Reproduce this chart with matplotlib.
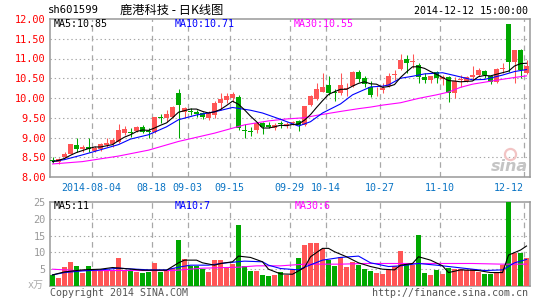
import matplotlib
matplotlib.use('Agg')
import matplotlib.pyplot as plt
import numpy as np

plt.rcParams['font.family'] = ['DejaVu Sans Mono', 'Noto Sans CJK SC']
plt.rcParams['lines.scale_dashes'] = False

# daily candles (index 0..79), price in yuan
opens = [8.44, 8.39, 8.50, 8.58, 8.80, 8.70, 8.75, 8.66, 8.70, 8.82,
         8.84, 8.89, 9.12, 9.15, 9.17, 9.27, 9.15, 9.15, 9.51, 9.49,
         9.51, 10.13, 9.65, 9.67, 9.64, 9.61, 9.50, 9.57, 9.88, 9.95,
         10.01, 10.03, 9.18, 9.16, 9.19, 9.36, 9.32, 9.23, 9.36, 9.30,
         9.36, 9.42, 9.32, 9.82, 9.97, 10.16, 10.33, 10.14, 10.13, 10.24,
         10.30, 10.67, 10.50, 10.28, 10.19, 10.20, 10.30, 10.58, 10.73, 10.98,
         10.91, 10.84, 10.54, 10.46, 10.66, 10.47, 10.52, 10.13, 10.46, 10.44,
         10.52, 10.58, 10.68, 10.56, 10.41, 10.74, 11.87, 10.92, 11.22, 10.64]
highs = [8.50, 8.49, 8.64, 8.84, 8.98, 8.80, 8.98, 8.78, 8.87, 8.98,
         8.98, 9.34, 9.28, 9.23, 9.28, 9.31, 9.23, 9.51, 9.59, 9.70,
         9.80, 10.23, 9.78, 9.75, 9.70, 9.65, 9.66, 9.93, 10.13, 10.12,
         10.14, 10.08, 9.34, 9.27, 9.40, 9.40, 9.38, 9.36, 9.43, 9.40,
         9.43, 9.45, 9.80, 10.07, 10.37, 10.63, 10.56, 10.24, 10.63, 10.37,
         10.69, 10.71, 10.56, 10.42, 10.29, 10.38, 10.63, 10.72, 11.11, 11.08,
         11.11, 10.88, 10.63, 10.56, 10.69, 10.58, 10.55, 10.53, 10.58, 10.56,
         10.81, 10.77, 10.71, 10.58, 10.75, 10.88, 11.87, 11.22, 11.24, 10.95]
lows = [8.36, 8.33, 8.47, 8.57, 8.64, 8.64, 8.64, 8.64, 8.66, 8.75,
        8.76, 8.87, 9.07, 9.02, 9.13, 9.12, 9.00, 9.11, 9.36, 9.40,
        9.49, 9.00, 9.49, 9.57, 9.51, 9.47, 9.45, 9.49, 9.70, 9.87,
        9.91, 9.19, 8.98, 9.04, 9.11, 9.10, 9.23, 9.19, 9.23, 9.23,
        9.32, 9.17, 9.30, 9.80, 9.96, 10.14, 10.08, 9.93, 10.08, 10.05,
        10.27, 10.40, 10.28, 10.03, 10.05, 10.12, 10.29, 10.46, 10.70, 10.64,
        10.77, 10.37, 10.37, 10.39, 10.37, 10.33, 9.91, 9.99, 10.29, 10.41,
        10.46, 10.56, 10.50, 10.35, 10.37, 10.64, 10.67, 10.37, 10.50, 10.60]
closes = [8.40, 8.45, 8.58, 8.84, 8.71, 8.77, 8.72, 8.74, 8.84, 8.87,
          8.94, 9.19, 9.21, 9.12, 9.27, 9.15, 9.13, 9.51, 9.49, 9.59,
          9.78, 9.82, 9.74, 9.65, 9.59, 9.51, 9.62, 9.88, 9.97, 10.05,
          10.09, 9.23, 9.17, 9.15, 9.36, 9.27, 9.27, 9.32, 9.33, 9.33,
          9.40, 9.32, 9.80, 10.05, 10.22, 10.27, 10.13, 10.13, 10.33, 10.25,
          10.67, 10.47, 10.35, 10.08, 10.20, 10.26, 10.56, 10.62, 10.96, 10.89,
          10.92, 10.54, 10.46, 10.56, 10.50, 10.54, 10.13, 10.43, 10.47, 10.52,
          10.58, 10.71, 10.58, 10.41, 10.73, 10.75, 10.92, 11.22, 10.71, 10.81]
# volume, x 10k shares
volumes = [3.2, 2.4, 5.6, 7.0, 5.9, 3.8, 5.9, 4.6, 4.9, 4.9,
           4.7, 8.3, 4.8, 4.9, 4.2, 3.8, 4.2, 6.8, 4.3, 4.7,
           5.5, 13.6, 7.9, 5.9, 5.9, 5.2, 4.1, 7.6, 7.6, 5.5,
           6.5, 18.3, 5.9, 4.4, 4.4, 3.2, 2.9, 3.4, 4.1, 3.2,
           5.1, 8.2, 12.2, 12.8, 12.8, 11.1, 7.8, 5.9, 8.7, 5.6,
           7.1, 6.2, 5.0, 4.5, 3.9, 3.6, 4.9, 6.1, 10.4, 6.6,
           6.2, 15.2, 3.9, 3.2, 4.7, 3.6, 5.4, 5.2, 5.2, 4.7,
           5.2, 4.2, 3.7, 3.5, 4.2, 6.2, 25.5, 9.8, 9.8, 8.2]

# moving average lines
ma5 = [8.39, 8.42, 8.47, 8.55, 8.62, 8.67, 8.72, 8.76, 8.76, 8.79,
       8.82, 8.92, 9.01, 9.07, 9.15, 9.19, 9.18, 9.24, 9.31, 9.37,
       9.50, 9.64, 9.68, 9.72, 9.72, 9.66, 9.62, 9.65, 9.71, 9.81,
       9.92, 9.84, 9.70, 9.54, 9.40, 9.24, 9.24, 9.27, 9.31, 9.30,
       9.33, 9.34, 9.44, 9.58, 9.76, 9.93, 10.09, 10.16, 10.22, 10.22,
       10.30, 10.37, 10.41, 10.36, 10.35, 10.27, 10.29, 10.34, 10.52, 10.66,
       10.79, 10.79, 10.75, 10.67, 10.60, 10.52, 10.44, 10.43, 10.41, 10.42,
       10.43, 10.54, 10.57, 10.56, 10.60, 10.64, 10.68, 10.81, 10.87, 10.88]
ma10_idx = [0, 2, 5, 8, 11, 13, 16, 19, 21, 24, 27, 30, 33, 35, 38, 41, 43,
            45, 48, 50, 53, 55, 56, 58, 60, 62, 65, 67, 70, 72, 75, 77, 79]
ma10 = [8.39, 8.44, 8.56, 8.69, 8.82, 8.96, 9.07, 9.27, 9.45, 9.57, 9.65,
        9.76, 9.69, 9.62, 9.46, 9.29, 9.40, 9.62, 9.85, 10.08, 10.28, 10.30,
        10.33, 10.50, 10.55, 10.61, 10.64, 10.57, 10.46, 10.47, 10.58, 10.67, 10.72]
ma30_idx = [0, 5, 11, 16, 21, 25, 27, 32, 36, 39, 42, 44, 48, 51, 53, 55,
            58, 61, 64, 66, 68, 70, 72, 74, 77, 79]
ma30 = [8.33, 8.39, 8.53, 8.68, 8.90, 9.04, 9.11, 9.32, 9.42, 9.47, 9.50,
        9.56, 9.66, 9.73, 9.77, 9.82, 9.88, 9.99, 10.08, 10.15, 10.27, 10.35,
        10.40, 10.45, 10.52, 10.56]

vol_ma5_idx = [0, 2, 5, 8, 10, 12, 15, 19, 21, 22, 24, 25, 27, 28, 30, 31, 33,
               35, 36, 38, 40, 42, 43, 45, 46, 47, 49, 51, 53, 55, 57, 58, 60,
               61, 63, 65, 66, 68, 71, 73, 75, 76, 78, 79]
vol_ma5 = [3.3, 4.2, 4.8, 5.0, 5.5, 5.2, 4.7, 4.7, 6.9, 7.7, 7.7, 6.9, 6.2,
           6.7, 7.2, 8.9, 8.5, 7.2, 5.0, 3.6, 3.5, 5.5, 8.7, 11.2, 11.2, 10.2,
           8.7, 6.9, 5.8, 5.0, 4.8, 6.2, 6.7, 8.7, 7.7, 6.0, 4.0, 4.8, 4.6,
           4.0, 4.0, 9.2, 10.7, 11.9]
vol_ma10_idx = [0, 2, 5, 8, 11, 14, 16, 19, 21, 23, 26, 29, 32, 35, 36, 38,
                41, 42, 45, 48, 51, 53, 56, 58, 61, 64, 67, 70, 72, 75, 77, 79]
vol_ma10 = [3.3, 4.0, 4.5, 4.8, 5.3, 5.0, 4.8, 4.8, 5.6, 6.2, 6.2, 6.9, 7.4,
            7.2, 6.2, 5.2, 4.8, 5.6, 7.7, 8.5, 8.9, 6.9, 5.8, 6.0, 6.7, 6.2,
            5.6, 5.0, 4.6, 4.8, 6.9, 7.9]
vol_ma30_idx = [0, 4, 10, 20, 25, 31, 34, 38, 42, 48, 52, 60, 70, 75, 79]
vol_ma30 = [5.0, 4.6, 4.6, 4.6, 5.3, 5.6, 6.0, 6.0, 6.5, 6.5, 6.7, 6.7, 6.7, 6.5, 6.5]

date_pos = [6.5, 16.5, 22.5, 29.5, 39.5, 45.5, 54.5, 64.5, 78.5]
date_labels = ['2014-08-04', '08-18', '09-03', '09-15', '09-29',
               '10-14', '10-27', '11-10', '12-12']
price_ticks = [8.0, 8.5, 9.0, 9.5, 10.0, 10.5, 11.0, 11.5, 12.0]
vol_ticks = [5, 10, 15, 20, 25]

RED = '#ff5555'
GREEN = '#00a800'
GRID = '#a8a8a8'
FRAME = '#999999'
DATE_BLUE = '#0a74c4'

W, H = 545, 300
fig = plt.figure(figsize=(W / 100, H / 100), dpi=100)


def px_axes(l, t, r, b):
    return fig.add_axes([l / W, 1 - b / H, (r - l) / W, (b - t) / H])


def px_text(x, y, s, **kw):
    kw.setdefault('va', 'center')
    kw.setdefault('fontsize', 7.2)
    fig.text(x / W, 1 - y / H, s, **kw)


def style_frame(a):
    for sp in a.spines.values():
        sp.set_color(FRAME)
        sp.set_linewidth(1.1)
    a.tick_params(length=0)


x = np.arange(len(closes))
o, h, l, c = (np.array(v) for v in (opens, highs, lows, closes))
colors = np.where(c >= o, RED, GREEN)

# price panel
ax = px_axes(50, 19, 530, 177)
ax.set_xlim(-0.42, 79.58)
ax.set_ylim(8, 12)
for y in price_ticks[1:-1]:
    ax.axhline(y, color=GRID, lw=0.8, ls=(0, (1, 2)), zorder=1)
for p in date_pos:
    ax.axvline(p, color=GRID, lw=0.9, ls=(0, (4, 3)), zorder=1)
ax.vlines(x, l, h, colors=colors, lw=0.75, zorder=3)
ax.bar(x, np.maximum(np.abs(c - o), 0.025), bottom=np.minimum(o, c),
       width=0.83, color=colors, lw=0, zorder=4)
ax.plot(ma30_idx, ma30, color='#ff00ff', lw=0.8, zorder=5)
ax.plot(ma10_idx, ma10, color='#0000ff', lw=0.8, zorder=5)
ax.plot(x, ma5, color='black', lw=0.8, zorder=6)
ax.set_yticks(price_ticks)
ax.set_yticklabels([f'{v:.2f}' for v in price_ticks], color='#ff0000', fontsize=7.4)
ax.set_xticks(date_pos)
ax.set_xticklabels(date_labels, color=DATE_BLUE, fontsize=7.2)
ax.get_xticklabels()[-1].set_ha('right')
style_frame(ax)
ax.tick_params(axis='y', pad=3)
ax.tick_params(axis='x', pad=4)
# sina watermark
ax.plot([76.3], [8.57], marker='o', ms=8, mfc='none', mec='#f2c4c4', mew=1.6, zorder=2)
ax.text(79.3, 8.27, 'sina', color='#c4c4c4', fontsize=11.5, fontstyle='italic',
        fontweight='bold', family='DejaVu Sans', ha='right', va='center', zorder=2)

# volume panel
vx = px_axes(50, 202, 530, 286)
vx.set_xlim(-0.42, 79.58)
vx.set_ylim(0, 25)
for y in vol_ticks[:-1]:
    vx.axhline(y, color=GRID, lw=0.8, ls=(0, (1, 2)), zorder=1)
for p in date_pos:
    vx.axvline(p, color=GRID, lw=0.9, ls=(0, (4, 3)), zorder=1)
vx.bar(x, volumes, width=0.83, color=colors, lw=0, zorder=3)
vx.plot(vol_ma30_idx, vol_ma30, color='#ff00ff', lw=0.8, zorder=5)
vx.plot(vol_ma10_idx, vol_ma10, color='#0000ff', lw=0.8, zorder=5)
vx.plot(vol_ma5_idx, vol_ma5, color='black', lw=0.8, zorder=6)
vx.set_yticks(vol_ticks)
vx.set_yticklabels([str(v) for v in vol_ticks], color='#999999', fontsize=7.4)
vx.set_xticks([])
style_frame(vx)
vx.tick_params(axis='y', pad=3)

# header and footer text
px_text(48, 10, 'sh601599', color='black', fontsize=7.6)
px_text(120, 10, '鹿港科技 - 日K线图', color='black', fontsize=8.8,
        family=['Noto Sans CJK SC', 'DejaVu Sans'])
px_text(528, 11, '2014-12-12 15:00:00', color='black', ha='right')
px_text(54, 24, 'MA5:10.85', color='black')
px_text(175, 24, 'MA10:10.71', color='#0000ff')
px_text(294, 24, 'MA30:10.55', color='#ff00ff')
px_text(54, 206, 'MA5:11', color='black')
px_text(175, 206, 'MA10:7', color='#0000ff')
px_text(295, 206, 'MA30:6', color='#ff00ff')
px_text(44, 285, 'x万', color='#aaaaaa', ha='right',
        family=['DejaVu Sans Mono', 'Noto Sans CJK SC'])
px_text(50, 293, 'Copyright 2014 SINA.COM', color='#555555')
px_text(528, 293, 'http://finance.sina.com.cn', color='#555555', ha='right')

fig.savefig('out.png', dpi=100, facecolor='white')
